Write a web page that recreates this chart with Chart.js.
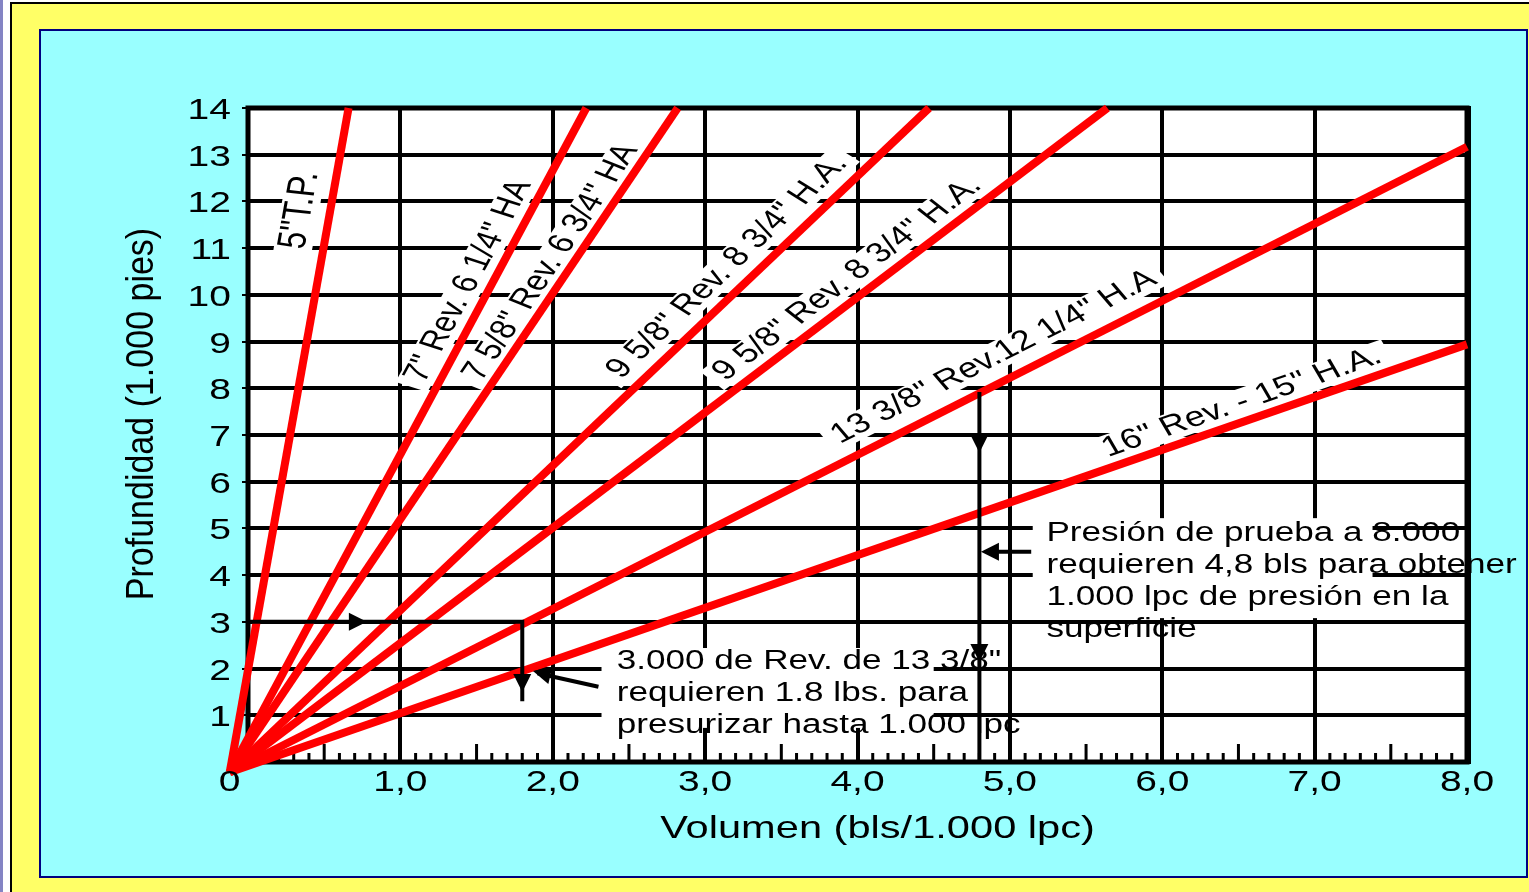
<!DOCTYPE html>
<html>
<head>
<meta charset="utf-8">
<script src="https://cdn.jsdelivr.net/npm/chart.js@4.4.1/dist/chart.umd.min.js"></script>
<style>
  html, body { margin: 0; padding: 0; background: #fff; overflow: hidden; }
  #wrap { width: 1529px; height: 892px; position: relative; }
</style>
</head>
<body>
<div id="wrap"><canvas id="chart"></canvas></div>
<script>
// Volumen para presurizar (bls / 1.000 lpc) vs profundidad, por revestidor
const SERIES_NAMES = [
    '5"T.P.',
    '7" Rev. 6 1/4" HA',
    '7 5/8" Rev. 6 3/4" HA',
    '9 5/8" Rev. 8 3/4" H.A.',
    '9 5/8" Rev. 8 3/4" H.A.',
    '13 3/8" Rev.12 1/4" H.A',
    '16" Rev. - 15" H.A.'
];
// every line starts at the common origin and ends at (END_X, END_Y)
const ORIGIN_X = -0.12;
const ORIGIN_Y = -0.22;
const END_X = [0.66, 2.22, 2.82, 4.47, 5.64, 8.0, 8.0];
const END_Y = [14, 14, 14, 14, 14, 13.17, 8.94];

const X_TICKS = [0, 1, 2, 3, 4, 5, 6, 7, 8];
const X_TICK_LABELS = ['0', '1,0', '2,0', '3,0', '4,0', '5,0', '6,0', '7,0', '8,0'];
const Y_TICKS = [1, 2, 3, 4, 5, 6, 7, 8, 9, 10, 11, 12, 13, 14];
const Y_TICK_LABELS = ['1', '2', '3', '4', '5', '6', '7', '8', '9', '10', '11', '12', '13', '14'];

const X_TITLE = 'Volumen (bls/1.000 lpc)';
const Y_TITLE = 'Profundidad (1.000 pies)';

const NOTE_1 = ['3.000 de Rev. de 13 3/8"', 'requieren 1.8 lbs. para', 'presurizar hasta 1.000 lpc'];
const NOTE_2 = ['Presión de prueba a 8.000', 'requieren 4,8 bls para obtener', '1.000 lpc de presión en la', 'superficie'];

// layout: label place along each line (fraction), gap from it (px) and font size
const LABEL_T = [0.838, 0.724, 0.752, 0.735, 0.718, 0.627, 0.823];
const LABEL_GAP = [30, 22, 19, 24, 21, 26, 19];
const LABEL_SIZE = [31, 28, 28, 28, 28, 28, 28];
const NOTE_1_POS = { x: 2.42, y: 2.14, box: [2.32, 2.44, 4.50, 0.73] };
const NOTE_2_POS = { x: 5.24, y: 4.90, box: [5.15, 5.22, 7.38, 3.08] };

const FONT = '"Liberation Sans", Arial, Helvetica, sans-serif';
const STRETCH = 1.3;

function drawText(ctx, text, x, y, o) {
    ctx.save();
    ctx.translate(x, y);
    ctx.scale(o.sx || STRETCH, 1);
    if (o.rot) ctx.rotate(o.rot);
    ctx.font = o.size + 'px ' + FONT;
    ctx.textAlign = o.align || 'center';
    ctx.textBaseline = o.baseline || 'middle';
    if (o.boxOnly) {
        const w = ctx.measureText(text).width;
        const h = o.size * 0.95;
        ctx.fillStyle = '#fff';
        ctx.fillRect(-w / 2 - 7, -h / 2, w + 14, h);
    } else {
        ctx.fillStyle = '#000';
        ctx.fillText(text, 0, 0);
    }
    ctx.restore();
}

function linePixels(chart, i) {
    const xs = chart.scales.x, ys = chart.scales.y;
    const x0 = xs.getPixelForValue(ORIGIN_X), y0 = ys.getPixelForValue(ORIGIN_Y);
    const x1 = xs.getPixelForValue(END_X[i]), y1 = ys.getPixelForValue(END_Y[i]);
    return { x0, y0, x1, y1 };
}

function labelPlace(chart, i) {
    const p = linePixels(chart, i);
    const dx = p.x1 - p.x0, dy = p.y1 - p.y0;
    const len = Math.hypot(dx, dy);
    const ux = dx / len, uy = dy / len;
    const t = LABEL_T[i], d = LABEL_GAP[i];
    const a = Math.atan2(dy, dx);
    return {
        x: p.x0 + dx * t + uy * d,
        y: p.y0 + dy * t - ux * d,
        // angle inside the horizontally stretched text space
        rot: Math.atan2(Math.sin(a) * STRETCH, Math.cos(a))
    };
}

function arrowHead(ctx, x, y, dir) {
    const len = 18, half = 9;
    ctx.save();
    ctx.translate(x, y);
    ctx.rotate(dir);
    ctx.beginPath();
    ctx.moveTo(0, 0);
    ctx.lineTo(-len, -half);
    ctx.lineTo(-len, half);
    ctx.closePath();
    ctx.fill();
    ctx.restore();
}

const decor = {
    id: 'decor',
    beforeDraw(chart) {
        const ctx = chart.ctx;
        const W = chart.width, H = chart.height;
        const a = chart.chartArea;
        ctx.save();
        ctx.fillStyle = '#ffffff';
        ctx.fillRect(0, 0, W, H);
        ctx.fillStyle = '#8484c4';
        ctx.fillRect(0, 0, 3, H);
        ctx.fillStyle = '#000';
        ctx.fillRect(10, 2, W - 10, H - 2);
        ctx.fillStyle = '#ffff66';
        ctx.fillRect(12, 4, W - 12, H - 4);
        ctx.fillStyle = '#99ffff';
        ctx.fillRect(40, 30, 1487, 847);
        ctx.strokeStyle = '#000080';
        ctx.lineWidth = 2;
        ctx.strokeRect(40, 30, 1487, 847);
        ctx.fillStyle = '#ffffff';
        ctx.fillRect(a.left, a.top, a.right - a.left, a.bottom - a.top);
        ctx.restore();
    },
    beforeDatasetsDraw(chart) {
        const ctx = chart.ctx;
        const xs = chart.scales.x, ys = chart.scales.y;
        const a = chart.chartArea;
        ctx.save();
        // white boxes under the notes and the line labels
        ctx.fillStyle = '#fff';
        [NOTE_1_POS.box, NOTE_2_POS.box].forEach(b => {
            const x0 = xs.getPixelForValue(b[0]), y0 = ys.getPixelForValue(b[1]);
            const x1 = xs.getPixelForValue(b[2]), y1 = ys.getPixelForValue(b[3]);
            ctx.fillRect(x0, y0, x1 - x0, y1 - y0);
        });
        SERIES_NAMES.forEach((name, i) => {
            const p = labelPlace(chart, i);
            drawText(ctx, name, p.x, p.y, { size: LABEL_SIZE[i], rot: p.rot, boxOnly: true });
        });
        // minor ticks on the volume axis
        ctx.fillStyle = '#000';
        for (let k = 1; k < 80; k++) {
            if (k % 10 === 0) continue;
            const px = xs.getPixelForValue(k / 10);
            const h = (k % 5 === 0) ? 18 : 9;
            ctx.fillRect(px - 1.5, a.bottom - h, 3, h);
        }
        // frame
        ctx.strokeStyle = '#000';
        ctx.lineWidth = 5;
        ctx.strokeRect(a.left, a.top, a.right - a.left, a.bottom - a.top);
        ctx.fillRect(a.right - 1, a.top - 2, 5, a.bottom - a.top + 4);
        ctx.restore();
    },
    afterDatasetsDraw(chart) {
        const ctx = chart.ctx;
        const xs = chart.scales.x, ys = chart.scales.y;
        const a = chart.chartArea;
        const X = v => xs.getPixelForValue(v), Y = v => ys.getPixelForValue(v);
        ctx.save();

        // arrows
        ctx.strokeStyle = '#000';
        ctx.fillStyle = '#000';
        ctx.lineWidth = 4;
        ctx.beginPath();
        ctx.moveTo(X(0), Y(3));
        ctx.lineTo(X(1.8), Y(3));
        ctx.lineTo(X(1.8), Y(1.3));
        ctx.stroke();
        arrowHead(ctx, X(0.78), Y(3), 0);
        arrowHead(ctx, X(1.8), Y(1.5), Math.PI / 2);

        ctx.beginPath();
        ctx.moveTo(X(2.30), Y(1.61));
        ctx.lineTo(X(1.90), Y(1.90));
        ctx.stroke();
        arrowHead(ctx, X(1.87), Y(1.95), Math.atan2(Y(1.95) - Y(1.61), X(1.87) - X(2.30)));

        ctx.beginPath();
        ctx.moveTo(X(4.8), Y(7.92));
        ctx.lineTo(X(4.8), a.bottom);
        ctx.stroke();
        arrowHead(ctx, X(4.8), Y(6.62), Math.PI / 2);
        arrowHead(ctx, X(4.8), Y(2.14), Math.PI / 2);

        ctx.beginPath();
        ctx.moveTo(X(5.14), Y(4.5));
        ctx.lineTo(X(4.85), Y(4.5));
        ctx.stroke();
        arrowHead(ctx, X(4.81), Y(4.5), Math.PI);

        // line labels
        SERIES_NAMES.forEach((name, i) => {
            const p = labelPlace(chart, i);
            drawText(ctx, name, p.x, p.y, { size: LABEL_SIZE[i], rot: p.rot });
        });

        // notes
        NOTE_1.forEach((t, k) => drawText(ctx, t, X(NOTE_1_POS.x), Y(NOTE_1_POS.y) + k * 32, { size: 27, align: 'left' }));
        NOTE_2.forEach((t, k) => drawText(ctx, t, X(NOTE_2_POS.x), Y(NOTE_2_POS.y) + k * 32, { size: 27, align: 'left' }));

        // tick labels
        Y_TICKS.forEach((v, k) => drawText(ctx, Y_TICK_LABELS[k], a.left - 17, Y(v) + 11,
            { size: 30, align: 'right', baseline: 'alphabetic' }));
        X_TICKS.forEach((v, k) => {
            const px = v === 0 ? X(ORIGIN_X) : X(v);
            drawText(ctx, X_TICK_LABELS[k], px, a.bottom + 29, { size: 30, baseline: 'alphabetic' });
        });

        // axis titles
        drawText(ctx, X_TITLE, (a.left + a.right) / 2 + 20, 829, { size: 32 });
        drawText(ctx, Y_TITLE, 142, 414, { size: 34, sx: 1.15, rot: -Math.PI / 2 });
        ctx.restore();
    }
};

const datasets = SERIES_NAMES.map((name, i) => ({
    label: name,
    data: [{ x: ORIGIN_X, y: ORIGIN_Y }, { x: END_X[i], y: END_Y[i] }],
    showLine: true,
    borderColor: '#ff0000',
    backgroundColor: '#ff0000',
    borderWidth: 8,
    pointRadius: 0,
    clip: false
}));

new Chart(document.getElementById('chart').getContext('2d'), {
    type: 'scatter',
    data: { datasets },
    options: {
        responsive: true,
        maintainAspectRatio: false,
        animation: false,
        events: [],
        layout: { padding: { left: 0, right: 62, top: 108, bottom: 0 } },
        plugins: {
            legend: { display: false },
            tooltip: { enabled: false }
        },
        scales: {
            x: {
                type: 'linear',
                min: 0,
                max: 8,
                border: { display: false },
                grid: { color: '#000', lineWidth: 4, drawTicks: false },
                ticks: { display: false, stepSize: 1 },
                afterFit(s) { s.height = 130; }
            },
            y: {
                type: 'linear',
                min: 0,
                max: 14,
                border: { display: false },
                grid: { color: '#000', lineWidth: 4, tickLength: 6, tickWidth: 2 },
                ticks: { display: false, stepSize: 1 },
                afterFit(s) { s.width = 248; }
            }
        }
    },
    plugins: [decor]
});
</script>
</body>
</html>
